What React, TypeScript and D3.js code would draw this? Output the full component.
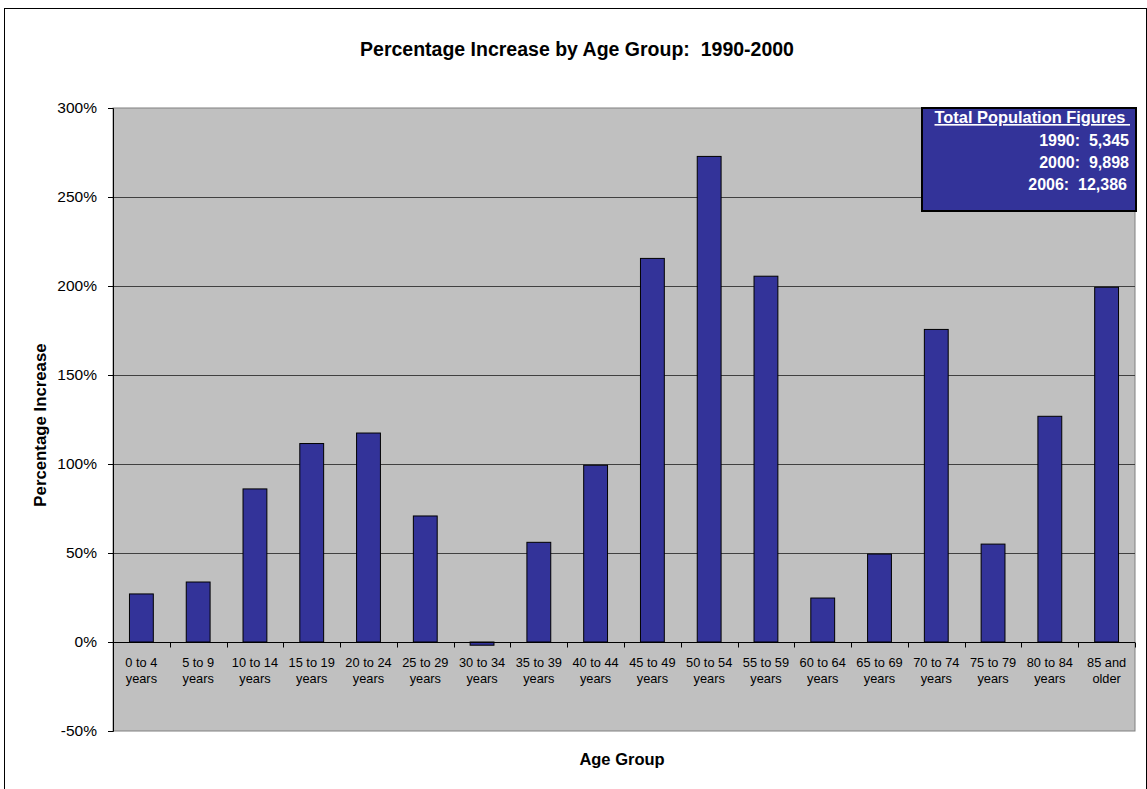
import { useEffect, useRef } from "react";
import * as d3 from "d3";

const categories = [
  "0 to 4|years", "5 to 9|years", "10 to 14|years", "15 to 19|years",
  "20 to 24|years", "25 to 29|years", "30 to 34|years", "35 to 39|years",
  "40 to 44|years", "45 to 49|years", "50 to 54|years", "55 to 59|years",
  "60 to 64|years", "65 to 69|years", "70 to 74|years", "75 to 79|years",
  "80 to 84|years", "85 and|older",
];
const increase = [27, 33.7, 86, 111.5, 117.4, 70.8, -1.8, 56, 99.3, 215.5, 272.8, 205.5, 24.7, 49.4, 175.6, 55, 126.8, 199.3];
const yTicks = [-50, 0, 50, 100, 150, 200, 250, 300];
const totalsTitle = "Total Population Figures ";
const totals = ["1990:  5,345", "2000:  9,898", "2006:  12,386"];

export default function App() {
  const svgRef = useRef<SVGSVGElement>(null);

  useEffect(() => {
    const root = d3.select(svgRef.current);
    root.selectAll("*").remove();

    const W = 1147, H = 789;
    const plot = { left: 113, right: 1135, top: 108, bottom: 731 };
    const font = "Liberation Sans, Arial, sans-serif";

    root.attr("width", W).attr("height", H).style("font-family", font);

    // outer chart frame
    root.append("rect").attr("x", 4.5).attr("y", 8.5).attr("width", 1142).attr("height", 800)
      .attr("fill", "#fff").attr("stroke", "#000").attr("stroke-width", 1);

    const x = d3.scaleBand().domain(categories).range([plot.left, plot.right]).paddingInner(0).paddingOuter(0);
    const y = d3.scaleLinear().domain([-50, 300]).range([plot.bottom, plot.top]);

    // plot background
    root.append("rect")
      .attr("x", plot.left).attr("y", plot.top)
      .attr("width", plot.right - plot.left).attr("height", plot.bottom - plot.top)
      .attr("fill", "#c0c0c0").attr("stroke", "#808080").attr("stroke-width", 1);

    // gridlines
    root.append("g").selectAll("line").data(yTicks.filter((t) => t !== -50 && t !== 300)).enter()
      .append("line")
      .attr("x1", plot.left).attr("x2", plot.right)
      .attr("y1", (d) => Math.round(y(d)) + 0.5).attr("y2", (d) => Math.round(y(d)) + 0.5)
      .attr("stroke", "#404040").attr("stroke-width", 1);

    // y axis
    const yAxis = d3.axisLeft(y).tickValues(yTicks).tickSize(5).tickFormat((d) => `${d}%`);
    const ya = root.append("g").attr("transform", `translate(${plot.left},0)`).call(yAxis);
    ya.select(".domain").attr("stroke", "#000");
    ya.selectAll(".tick line").attr("stroke", "#000");
    ya.selectAll("text").attr("font-size", 15.5).attr("font-family", font).attr("fill", "#000").attr("x", -16);

    // bars
    const bw = x.bandwidth() * 0.42;
    root.append("g").selectAll("rect").data(increase).enter()
      .append("rect")
      .attr("x", (_, i) => (x(categories[i]) as number) + x.bandwidth() / 2 - bw / 2)
      .attr("y", (d) => y(Math.max(d, 0)))
      .attr("width", bw)
      .attr("height", (d) => Math.abs(y(d) - y(0)))
      .attr("fill", "#333399").attr("stroke", "#000").attr("stroke-width", 1);

    // category axis at zero
    const y0 = Math.round(y(0)) + 0.5;
    root.append("line").attr("x1", plot.left).attr("x2", plot.right).attr("y1", y0).attr("y2", y0)
      .attr("stroke", "#000").attr("stroke-width", 1.2);
    const edges = d3.range(categories.length + 1).map((i) => plot.left + i * x.step());
    root.append("g").selectAll("line").data(edges).enter().append("line")
      .attr("x1", (d) => Math.round(d) + 0.5).attr("x2", (d) => Math.round(d) + 0.5)
      .attr("y1", y0).attr("y2", y0 + 5).attr("stroke", "#000");

    const lbl = root.append("g").selectAll("text").data(categories).enter().append("text")
      .attr("x", (d) => (x(d) as number) + x.bandwidth() / 2)
      .attr("y", y0 + 24)
      .attr("text-anchor", "middle").attr("font-size", 12.8).attr("fill", "#000");
    lbl.each(function (d) {
      const parts = d.split("|");
      const t = d3.select(this);
      parts.forEach((p, i) => {
        t.append("tspan").attr("x", t.attr("x")).attr("dy", i === 0 ? 0 : 16).text(p);
      });
    });

    // title and axis titles
    root.append("text").attr("x", 577).attr("y", 56).attr("text-anchor", "middle")
      .attr("font-size", 19.5).attr("font-weight", "bold").attr("xml:space", "preserve")
      .text("Percentage Increase by Age Group:  1990-2000");
    root.append("text").attr("x", 622).attr("y", 765).attr("text-anchor", "middle")
      .attr("font-size", 16.5).attr("font-weight", "bold").text("Age Group");
    root.append("text").attr("transform", "translate(46,425) rotate(-90)").attr("text-anchor", "middle")
      .attr("font-size", 16.8).attr("font-weight", "bold").text("Percentage Increase");

    // totals box
    const box = { x: 922, y: 108, w: 214, h: 103 };
    root.append("rect").attr("x", box.x).attr("y", box.y).attr("width", box.w).attr("height", box.h)
      .attr("fill", "#333399").attr("stroke", "#000").attr("stroke-width", 2);
    const tx = 1130;
    root.append("text").attr("x", tx).attr("y", 123).attr("text-anchor", "end")
      .attr("font-size", 16.4).attr("font-weight", "bold").attr("fill", "#fff")
      .attr("text-decoration", "underline").attr("xml:space", "preserve").text(totalsTitle);
    root.append("g").selectAll("text").data(totals).enter().append("text")
      .attr("x", (_, i) => (i === 2 ? tx - 3 : tx - 1)).attr("y", (_, i) => 145.5 + i * 22)
      .attr("text-anchor", "end")
      .attr("font-size", 16).attr("font-weight", "bold").attr("fill", "#fff")
      .attr("xml:space", "preserve").text((d) => d);
  }, []);

  return <svg ref={svgRef} style={{ position: "absolute", left: 0, top: 0 }} />;
}
